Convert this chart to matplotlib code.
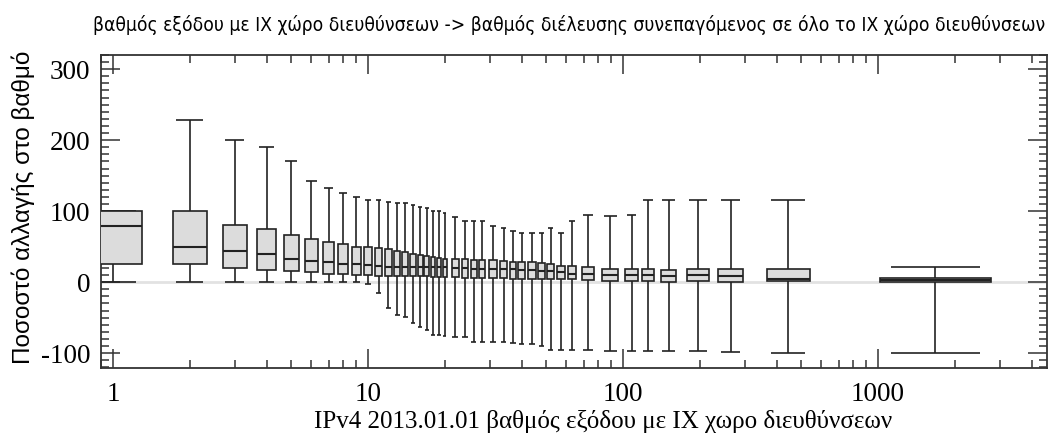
import numpy as np
import matplotlib.pyplot as plt
from matplotlib import font_manager
from matplotlib.patches import Rectangle
from matplotlib.ticker import FixedLocator, LogLocator, NullFormatter, MultipleLocator

# ------------------- DATA -------------------
degree = [1, 2, 3, 4, 5, 6, 7, 8, 9, 10, 11, 12, 13, 14, 15, 16, 17, 18, 19, 20,
          22, 24, 26, 28, 31, 34, 37, 40, 44, 48, 52, 57, 63, 73, 89, 108, 125,
          151, 197, 264, 444, 1680]
whis_hi = [100, 228, 200, 190, 171, 143, 133, 125, 120, 116, 116, 113, 111, 111,
           109, 106, 104, 100, 100, 97, 92, 86, 86, 86, 79, 76, 72, 69, 69, 69,
           76, 69, 86, 94, 93, 94, 115, 115, 115, 115, 115, 22]
q3 = [100, 100, 81, 75, 67, 61, 57, 54, 50, 50, 48, 46, 44, 42, 40, 38, 37, 35,
      34, 33, 32, 32, 31, 31, 31, 30, 29, 28, 28, 27, 25, 23, 23, 22, 19, 19, 19,
      17, 19, 18, 18, 6]
median = [79, 50, 44, 39, 33, 30, 28, 26, 25, 24, 23, 22, 22, 22, 21, 21, 21, 21,
          21, 21, 20, 20, 19, 19, 19, 18, 18, 17, 17, 16, 15, 14, 12, 11, 10, 10,
          10, 9, 10, 8, 5, 3]
q1 = [25, 25, 20, 17, 16, 14, 12, 12, 10, 10, 8, 8, 8, 8, 8, 8, 8, 7, 7, 7, 7, 6,
      6, 6, 6, 6, 5, 5, 5, 5, 4, 4, 4, 3, 1.5, 1.5, 1.5, 0.5, 1.5, 0.5, 1.5, 0]
whis_lo = [0, 0, 0, 0, 0, 0, 0, 0, 0, -3, -16, -37, -46, -49, -57, -63, -67, -75,
           -75, -76, -77, -78, -84, -85, -85, -85, -86, -87, -87, -90, -95, -95,
           -95, -95, -97, -97, -97, -97, -97, -98, -100, -100]

xticks = [1, 10, 100, 1000]
xticklabels = ["1", "10", "100", "1000"]
yticks = [-100, 0, 100, 200, 300]
yticklabels = ["-100", "0", "100", "200", "300"]

title = ("βαθμός εξόδου με IX χώρο διευθύνσεων -> βαθμός διέλευσης "
         "συνεπαγόμενος σε όλο το IX χώρο διευθύνσεων")
xlabel = "IPv4 2013.01.01 βαθμός εξόδου με IX χωρο διευθύνσεων"
ylabel = "Ποσοστό αλλαγής στο βαθμό"

# narrow sans (with Greek) for the title
names = {f.name for f in font_manager.fontManager.ttflist}
if "Liberation Sans Narrow" in names:
    title_font = dict(family="Liberation Sans Narrow", stretch="normal")
else:
    title_font = dict(family="DejaVu Sans", stretch="condensed")

# ------------------- PLOT -------------------
fig = plt.figure(figsize=(10.52, 4.34), dpi=100)
ax = fig.add_axes([101 / 1052, 1 - 368 / 434, 946 / 1052, 313 / 434])
ax.set_xscale("log")

ax.axhline(0, color="#e2e2e2", lw=2, zorder=0)

# box widths in decades: a fraction of the gap to the nearest neighbour
lx = np.log10(degree)
gaps = np.diff(lx)
near = np.minimum(np.r_[gaps[0], gaps], np.r_[gaps, gaps[-1]])
w = 0.75 * near

lw = 1.2
for i, p in enumerate(degree):
    left, right = 10 ** (lx[i] - w[i] / 2), 10 ** (lx[i] + w[i] / 2)
    cl, cr = 10 ** (lx[i] - 0.4 * w[i]), 10 ** (lx[i] + 0.4 * w[i])
    ax.vlines(p, q3[i], whis_hi[i], color="#222222", lw=lw, zorder=2)
    ax.vlines(p, whis_lo[i], q1[i], color="#222222", lw=lw, zorder=2)
    ax.hlines([whis_lo[i], whis_hi[i]], cl, cr, color="#222222", lw=lw, zorder=2)
    ax.add_patch(Rectangle((left, q1[i]), right - left, q3[i] - q1[i],
                           facecolor="#dcdcdc", edgecolor="#222222", lw=lw, zorder=3))
    ax.hlines(median[i], left, right, color="#222222", lw=lw + 0.3, zorder=4)

ax.set_xlim(0.897, 4600)
ax.set_ylim(-121, 320)

ax.xaxis.set_major_locator(FixedLocator(xticks))
ax.xaxis.set_minor_locator(LogLocator(base=10, subs=range(2, 10)))
ax.xaxis.set_minor_formatter(NullFormatter())
ax.set_xticks(xticks, xticklabels)
ax.set_yticks(yticks, yticklabels)
ax.yaxis.set_minor_locator(MultipleLocator(10))

ax.tick_params(which="both", direction="in", top=True, right=True,
               width=1.1, color="#333333")
ax.tick_params(which="major", length=14)
ax.tick_params(which="minor", length=6)
ax.tick_params(axis="x", which="major", pad=10)
ax.tick_params(axis="y", which="major", pad=7.5)
for s in ax.spines.values():
    s.set_linewidth(1.3)
    s.set_color("#333333")

for lab in ax.get_xticklabels() + ax.get_yticklabels():
    lab.set_family("Liberation Serif")
    lab.set_fontsize(19.5)

ax.set_xlabel(xlabel, family="Liberation Serif", fontsize=18)
ax.xaxis.set_label_coords((603 - 101) / 946, -0.135)
fig.text(0.022, 0.523, ylabel, rotation=90, ha="center", va="center",
         family="Liberation Sans", fontsize=17.5)
t = fig.text(0.9935, 0.942, title, ha="right", va="center", fontsize=15,
             **title_font)

# size the title so it spans the same width as in the reference (~950 px)
fig.canvas.draw()
bb = t.get_window_extent(fig.canvas.get_renderer())
t.set_fontsize(15 * 950 / bb.width)

fig.savefig("out.png", dpi=100)
plt.close(fig)
